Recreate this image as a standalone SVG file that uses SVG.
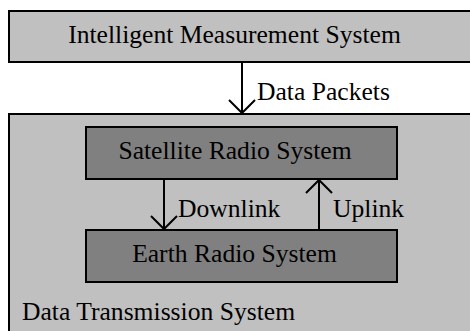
<svg xmlns="http://www.w3.org/2000/svg" width="470" height="331" viewBox="0 0 470 331">
<style>
.outer{fill:#c0c0c0;stroke:#000;stroke-width:2}
.inner{fill:#808080;stroke:#000;stroke-width:2}
.t{font-family:"Liberation Serif","Times New Roman",serif;font-size:25.6px;fill:#000}
.c{text-anchor:middle}
.ln{fill:none;stroke:#000;stroke-width:2}
</style>
<rect width="470" height="331" fill="#fff"/>
<g id="ims">
<rect class="outer" x="9" y="11" width="470" height="51"/>
<text class="t c" x="234.5" y="43">Intelligent Measurement System</text>
</g>
<g id="dts">
<rect class="outer" x="9" y="114" width="470" height="230"/>
<text class="t" x="22" y="320">Data Transmission System</text>
</g>
<g id="srs">
<rect class="inner" x="86" y="127" width="311" height="52"/>
<text class="t c" x="235" y="159">Satellite Radio System</text>
</g>
<g id="ers">
<rect class="inner" x="86" y="230" width="311" height="52"/>
<text class="t c" x="234.5" y="262">Earth Radio System</text>
</g>
<g id="connectors">
<path class="ln" d="M242 62V113M229 100L242 113L255 100"/>
<text class="t" x="257" y="100">Data Packets</text>
<path class="ln" d="M164 179V229M151 216L164 229L177 216"/>
<text class="t" x="178" y="217">Downlink</text>
<path class="ln" d="M319 230V180M306 193L319 180L332 193"/>
<text class="t" x="333" y="217">Uplink</text>
</g>
</svg>
